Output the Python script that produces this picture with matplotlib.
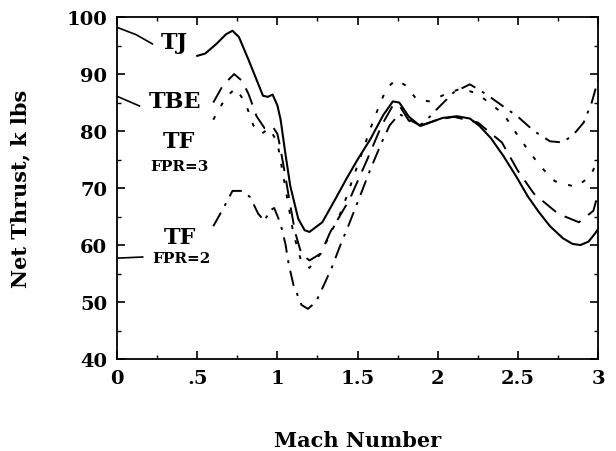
import matplotlib.pyplot as plt
from matplotlib.ticker import MultipleLocator

# Net thrust vs Mach number for four engine cycles
mach_tj = [0.50, 0.55, 0.62, 0.68, 0.72, 0.76, 0.82, 0.87, 0.91, 0.94, 0.97, 1.00,
           1.02, 1.05, 1.08, 1.13, 1.17, 1.20, 1.28, 1.36, 1.43, 1.50, 1.58, 1.66,
           1.72, 1.76, 1.82, 1.89, 1.95, 2.03, 2.12, 2.20, 2.26, 2.33, 2.41, 2.49,
           2.56, 2.63, 2.70, 2.78, 2.84, 2.89, 2.94, 2.98, 3.00]
thrust_tj = [93.2, 93.6, 95.3, 97.0, 97.6, 96.5, 92.5, 89.0, 86.2, 86.0, 86.4, 84.5,
             82.0, 76.0, 70.4, 64.6, 62.6, 62.3, 64.0, 68.0, 71.6, 75.0, 78.6, 82.8,
             85.2, 85.0, 82.5, 80.9, 81.5, 82.3, 82.6, 82.2, 80.9, 78.8, 75.6, 72.0,
             68.6, 65.8, 63.3, 61.2, 60.2, 60.0, 60.6, 62.0, 62.8]

mach_tbe = [0.60, 0.66, 0.73, 0.78, 0.82, 0.87, 0.92, 0.97, 1.00, 1.02, 1.05, 1.08,
            1.11, 1.15, 1.20, 1.27, 1.33, 1.45, 1.56, 1.65, 1.72, 1.76, 1.82, 1.90,
            2.00, 2.10, 2.25, 2.40, 2.50, 2.60, 2.75, 2.88, 2.97, 3.00]
thrust_tbe = [85.0, 88.0, 90.0, 88.8, 86.5, 82.6, 80.5, 80.8, 79.5, 76.8, 72.0, 67.0,
              62.3, 58.4, 57.3, 58.5, 62.3, 68.0, 75.0, 81.0, 84.5, 84.5, 81.8, 81.0,
              82.0, 82.5, 81.5, 78.0, 73.0, 69.0, 65.5, 64.0, 66.0, 69.0]

mach_fpr3 = [0.60, 0.68, 0.74, 0.80, 0.85, 0.90, 0.95, 1.00, 1.05, 1.10, 1.15, 1.20,
             1.27, 1.40, 1.50, 1.60, 1.68, 1.74, 1.80, 1.87, 1.95, 2.05, 2.15, 2.25,
             2.41, 2.48, 2.56, 2.64, 2.73, 2.86, 2.95, 3.00]
thrust_fpr3 = [82.0, 86.0, 87.5, 85.0, 81.0, 79.5, 80.5, 78.0, 70.0, 62.0, 57.0, 56.0,
               58.5, 66.0, 74.0, 82.0, 87.5, 89.0, 88.0, 85.5, 85.2, 86.5, 87.5, 86.5,
               83.0, 80.0, 76.8, 73.8, 71.2, 70.2, 72.0, 75.0]

mach_fpr2 = [0.60, 0.66, 0.72, 0.78, 0.83, 0.88, 0.92, 0.95, 0.98, 1.02, 1.05, 1.07,
             1.10, 1.15, 1.19, 1.24, 1.29, 1.34, 1.39, 1.44, 1.50, 1.58, 1.65, 1.70,
             1.76, 1.82, 1.89, 1.95, 2.00, 2.10, 2.20, 2.30, 2.40, 2.50, 2.60, 2.70,
             2.78, 2.85, 2.91, 2.96, 3.00]
thrust_fpr2 = [63.3, 66.3, 69.5, 69.5, 68.4, 65.5, 64.2, 66.0, 66.5, 63.7, 60.2, 56.7,
               53.0, 49.5, 48.8, 50.0, 53.0, 56.1, 59.8, 63.2, 67.5, 73.3, 78.0, 81.0,
               83.0, 82.0, 81.0, 82.5, 84.0, 86.8, 88.2, 86.5, 84.5, 82.5, 80.0, 78.2,
               78.0, 79.5, 81.5, 85.0, 89.0]

plt.rcParams['font.family'] = 'DejaVu Serif'
plt.rcParams['font.weight'] = 'bold'
plt.rcParams['axes.labelweight'] = 'bold'

fig = plt.figure(figsize=(6.16, 4.52), dpi=100)
ax = fig.add_axes([0.19, 0.2035, 0.781, 0.7565])

ax.plot(mach_tj, thrust_tj, color='black', lw=1.5)
ax.plot(mach_tbe, thrust_tbe, color='black', lw=1.4, linestyle=(0, (9, 5)))
ax.plot(mach_fpr3, thrust_fpr3, color='black', lw=1.4, linestyle=(0, (2, 6)))
ax.plot(mach_fpr2, thrust_fpr2, color='black', lw=1.4, linestyle=(0, (8, 4, 1.5, 4)))

# curve labels with leader lines
ax.plot([0.0, 0.12, 0.22], [98.2, 96.9, 95.3], color='black', lw=1.2)
ax.plot([0.0, 0.14], [86.1, 84.4], color='black', lw=1.2)
ax.plot([0.0, 0.16], [57.7, 57.9], color='black', lw=1.2)

ax.text(0.36, 95.6, 'TJ', fontsize=16, ha='center', va='center')
ax.text(0.36, 85.3, 'TBE', fontsize=16, ha='center', va='center')
ax.text(0.385, 78.2, 'TF', fontsize=16, ha='center', va='center')
ax.text(0.39, 73.9, 'FPR=3', fontsize=11, ha='center', va='center')
ax.text(0.39, 61.4, 'TF', fontsize=16, ha='center', va='center')
ax.text(0.40, 57.7, 'FPR=2', fontsize=11, ha='center', va='center')

ax.set_xlim(0, 3)
ax.set_ylim(40, 100)
ax.set_xticks([0, 0.5, 1, 1.5, 2, 2.5, 3])
ax.set_xticklabels(['0', '.5', '1', '1.5', '2', '2.5', '3'])
ax.set_yticks(range(40, 101, 10))
ax.xaxis.set_minor_locator(MultipleLocator(0.25))
ax.yaxis.set_minor_locator(MultipleLocator(5))
ax.tick_params(which='both', direction='in', top=True, right=True, labelsize=14)
ax.tick_params(which='major', length=6, width=1.2, pad=7)
ax.tick_params(which='minor', length=3, width=1)
for s in ax.spines.values():
    s.set_linewidth(1.3)

ax.set_xlabel('Mach Number', fontsize=15, labelpad=31)
ax.set_ylabel('Net Thrust, k lbs', fontsize=15, labelpad=26)

fig.savefig('out.png', dpi=100)
